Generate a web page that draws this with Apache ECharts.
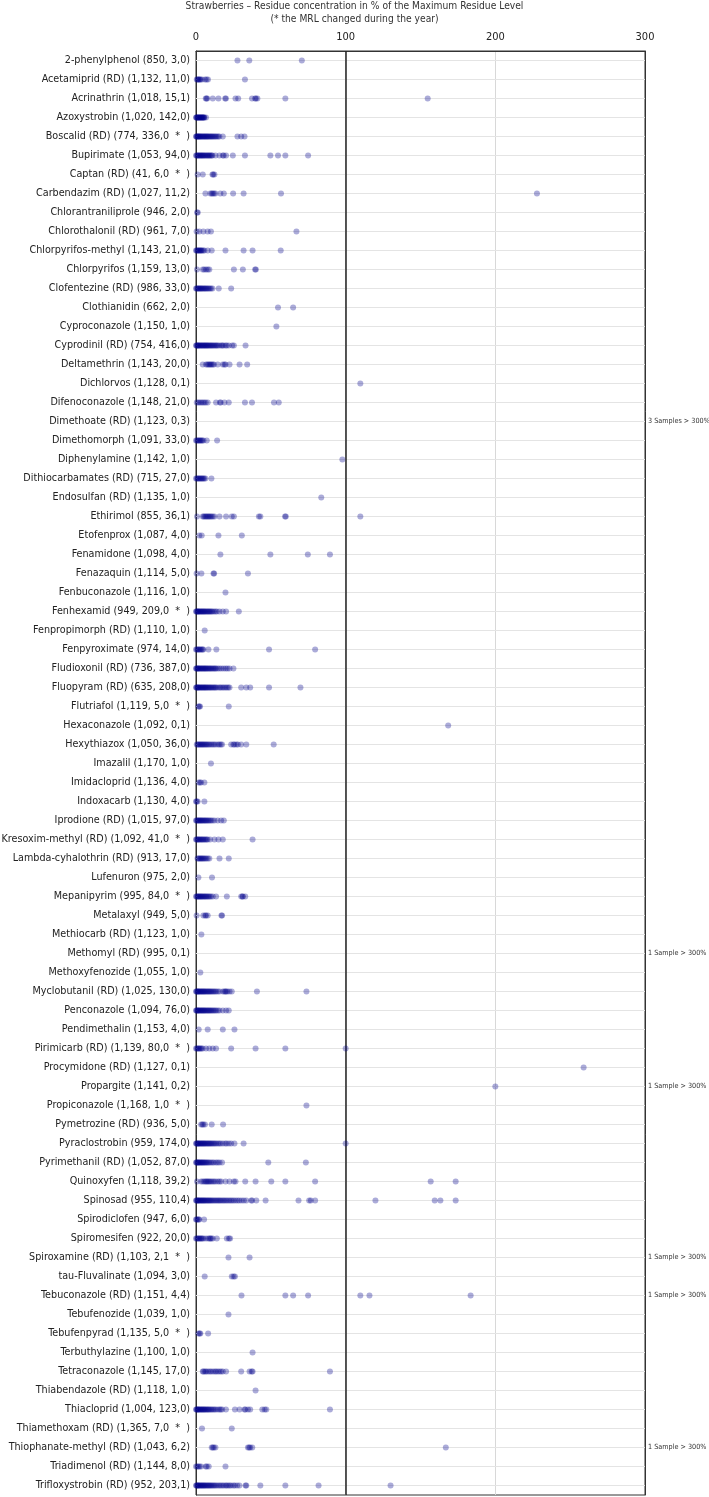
<!DOCTYPE html>
<html>
<head>
<meta charset="utf-8">
<script src="https://cdn.jsdelivr.net/npm/echarts@6/dist/echarts.min.js"></script>
<style>
html,body{margin:0;padding:0;background:#fff;}
#chart{width:709px;height:1497px;}
</style>
</head>
<body>
<div id="chart"></div>
<script>
var titleLine1 = 'Strawberries \u2013 Residue concentration in % of the Maximum Residue Level';
var titleLine2 = '(* the MRL changed during the year)';
var xTicks = [0, 100, 200, 300];
var mrlLine = 100;

var categories = [
'2-phenylphenol (850, 3,0)',
'Acetamiprid (RD) (1,132, 11,0)',
'Acrinathrin (1,018, 15,1)',
'Azoxystrobin (1,020, 142,0)',
'Boscalid (RD) (774, 336,0  *  )',
'Bupirimate (1,053, 94,0)',
'Captan (RD) (41, 6,0  *  )',
'Carbendazim (RD) (1,027, 11,2)',
'Chlorantraniliprole (946, 2,0)',
'Chlorothalonil (RD) (961, 7,0)',
'Chlorpyrifos-methyl (1,143, 21,0)',
'Chlorpyrifos (1,159, 13,0)',
'Clofentezine (RD) (986, 33,0)',
'Clothianidin (662, 2,0)',
'Cyproconazole (1,150, 1,0)',
'Cyprodinil (RD) (754, 416,0)',
'Deltamethrin (1,143, 20,0)',
'Dichlorvos (1,128, 0,1)',
'Difenoconazole (1,148, 21,0)',
'Dimethoate (RD) (1,123, 0,3)',
'Dimethomorph (1,091, 33,0)',
'Diphenylamine (1,142, 1,0)',
'Dithiocarbamates (RD) (715, 27,0)',
'Endosulfan (RD) (1,135, 1,0)',
'Ethirimol (855, 36,1)',
'Etofenprox (1,087, 4,0)',
'Fenamidone (1,098, 4,0)',
'Fenazaquin (1,114, 5,0)',
'Fenbuconazole (1,116, 1,0)',
'Fenhexamid (949, 209,0  *  )',
'Fenpropimorph (RD) (1,110, 1,0)',
'Fenpyroximate (974, 14,0)',
'Fludioxonil (RD) (736, 387,0)',
'Fluopyram (RD) (635, 208,0)',
'Flutriafol (1,119, 5,0  *  )',
'Hexaconazole (1,092, 0,1)',
'Hexythiazox (1,050, 36,0)',
'Imazalil (1,170, 1,0)',
'Imidacloprid (1,136, 4,0)',
'Indoxacarb (1,130, 4,0)',
'Iprodione (RD) (1,015, 97,0)',
'Kresoxim-methyl (RD) (1,092, 41,0  *  )',
'Lambda-cyhalothrin (RD) (913, 17,0)',
'Lufenuron (975, 2,0)',
'Mepanipyrim (995, 84,0  *  )',
'Metalaxyl (949, 5,0)',
'Methiocarb (RD) (1,123, 1,0)',
'Methomyl (RD) (995, 0,1)',
'Methoxyfenozide (1,055, 1,0)',
'Myclobutanil (RD) (1,025, 130,0)',
'Penconazole (1,094, 76,0)',
'Pendimethalin (1,153, 4,0)',
'Pirimicarb (RD) (1,139, 80,0  *  )',
'Procymidone (RD) (1,127, 0,1)',
'Propargite (1,141, 0,2)',
'Propiconazole (1,168, 1,0  *  )',
'Pymetrozine (RD) (936, 5,0)',
'Pyraclostrobin (959, 174,0)',
'Pyrimethanil (RD) (1,052, 87,0)',
'Quinoxyfen (1,118, 39,2)',
'Spinosad (955, 110,4)',
'Spirodiclofen (947, 6,0)',
'Spiromesifen (922, 20,0)',
'Spiroxamine (RD) (1,103, 2,1  *  )',
'tau-Fluvalinate (1,094, 3,0)',
'Tebuconazole (RD) (1,151, 4,4)',
'Tebufenozide (1,039, 1,0)',
'Tebufenpyrad (1,135, 5,0  *  )',
'Terbuthylazine (1,100, 1,0)',
'Tetraconazole (1,145, 17,0)',
'Thiabendazole (RD) (1,118, 1,0)',
'Thiacloprid (1,004, 123,0)',
'Thiamethoxam (RD) (1,365, 7,0  *  )',
'Thiophanate-methyl (RD) (1,043, 6,2)',
'Triadimenol (RD) (1,144, 8,0)',
'Trifloxystrobin (RD) (952, 203,1)'
];

var residues = [
[27.7, 35.6, 70.7],
[0.5,1,1.5,2,2.5,3,4,6,7,8,32.7],
[6.5,7,7.5,11.2,15,19.5,20,26.4,28.2,37.4,39.5,40,41,59.7,154.8],
[0,0.3,0.6,1,1.3,1.6,2,2.3,2.6,3,3.3,3.6,4,4.3,4.6,5,5.3,5.6,6.7],
[0,0.3,0.7,1,1.4,1.8,2.2,2.6,3,3.5,4,4.5,5,5.5,6,6.5,7,7.5,8,8.6,9.2,9.8,10.4,11,11.7,12.4,13.1,13.9,14.8,15.6,17.9,27.7,30.2,32.4],
[0,0.5,1,1.5,2,2.5,3,3.5,4,4.5,5,5.6,6.2,6.8,7.4,8,8.6,9.2,9.8,10.5,11,13,15.7,17.9,18.5,20.1,24.6,32.7,49.7,54.8,59.7,74.9],
[1.1,4.5,11,11.5,12.3],
[6.3,9.6,10.5,11.2,12,13,16.3,18.6,24.8,31.8,56.8,227.8],
[0.7,1.2],
[0.4,2.2,4.9,7.8,10,67.1],
[0,0.5,1,1.5,2,2.5,3,3.5,4,4.8,5.6,7.8,10.5,19.7,31.8,37.8,56.6],
[0.7,4.5,5.5,6.7,7.8,8.9,25.3,31.3,39.5,40],
[0,0.5,1,1.5,2,2.5,3,3.5,4,4.6,5.2,5.8,6.4,7,7.7,8.4,9.2,10,11,15.2,23.5],
[54.8,64.9],
[53.7],
[0,0.4,0.8,1.2,1.6,2,2.5,3,3.5,4,4.5,5,5.5,6,6.5,7,7.5,8,8.6,9.2,9.8,10.4,11,11.7,12.4,13.1,13.8,14.5,15.5,16.8,17.5,18.3,19.7,20.5,21.9,24.2,25.3,33.1],
[4.5,6.7,7.5,8.3,9,9.7,10.4,11.2,12,14.5,17.9,19,19.7,22.4,29.1,34.2],
[109.8],
[0.5,1.5,2.5,3.5,4.5,5.5,6.5,7.8,13.4,16,16.5,19,21.9,32.7,37.4,52.1,55.3],
[],
[0,0.6,1.2,1.8,2.4,3,3.6,4.2,5,7.2,14.1],
[97.8],
[0,0.6,1.2,1.8,2.4,3,3.6,4.2,4.8,5.5,6.3,10.3],
[83.7],
[0.7,4.5,5.2,6,6.7,7.4,8.1,8.8,9.5,10.3,11.2,12.3,15.7,20.1,23.9,25.3,42,43,59.5,60,109.8],
[2.2,3.8,15,30.6],
[16.3,49.7,74.7,89.5],
[0.4,3.6,11.7,12.1,34.7],
[19.7],
[0,0.4,0.8,1.2,1.6,2,2.5,3,3.5,4,4.5,5,5.5,6,6.6,7.2,7.8,8.4,9,9.6,10.3,11,12,13,14,15.7,17.9,20.1,28.6],
[5.8],
[0,0.6,1.2,1.8,2.4,3,3.7,4.4,4.9,8.3,13.6,48.8,79.6],
[0,0.4,0.8,1.2,1.6,2,2.5,3,3.5,4,4.5,5,5.5,6,6.5,7,7.6,8.2,8.8,9.4,10,10.7,11.4,12.1,12.8,13.4,14.5,15.7,17,18.4,19.8,21,22.4,25],
[0,0.4,0.8,1.2,1.6,2,2.5,3,3.5,4,4.5,5,5.5,6,6.5,7,7.6,8.2,8.8,9.4,10,10.7,11.4,12.1,12.8,13.4,14.5,15.7,16.5,17.5,18.5,19.5,20.5,21.5,22.4,30.2,33.6,36.2,48.8,69.8],
[1.6,2.2,2.7,21.9],
[168.5],
[0.5,1.1,1.7,2.3,2.9,3.5,4.1,4.7,5.3,6,6.7,7.4,8.2,9,10,11,12,13,14.5,15.5,16.5,17.4,23.5,25,25.7,27,28,30.2,33.6,51.9],
[10],
[1.8,2.6,3.4,5.6],
[0,0.5,1.1,5.6],
[0,0.5,1,1.5,2,2.5,3,3.5,4,4.6,5.2,5.8,6.4,7,7.7,8.4,9.2,10,11,12.3,14.5,16.8,18.6],
[0,0.5,1,1.5,2,2.6,3.2,3.8,4.4,5,5.7,6.4,7.1,7.8,9.4,12.3,15,17.9,37.8],
[1,1.6,2.2,2.8,3.4,4,4.6,5.3,6,6.8,7.8,8.9,15.7,21.9],
[1.6,10.7],
[0,0.5,1,1.5,2,2.5,3,3.5,4,4.6,5.2,5.8,6.4,7,7.7,8.4,9.2,10,11.2,13.4,20.6,30.2,31,31.3,32.9],
[0.4,4.9,6.2,6.7,7.8,17,17.4],
[3.6],
[],
[2.9],
[0,0.4,0.8,1.2,1.6,2,2.5,3,3.5,4,4.5,5,5.5,6,6.6,7.2,7.8,8.4,9,9.6,10.3,11,11.8,12.6,13.4,14.5,15.7,17.9,19,19.6,20.2,21,22.4,23.9,40.7,73.8],
[0,0.4,0.8,1.2,1.6,2,2.5,3,3.5,4,4.5,5,5.5,6,6.6,7.2,7.8,8.4,9,9.6,10.3,11,11.8,12.6,13.4,14.5,15.7,17.9,20.1,21.9],
[1.8,7.8,17.9,25.7],
[0,0.6,1.2,1.8,2.4,3,3.7,4.5,6.7,8.9,11.2,13.4,23.5,39.8,59.7,100],
[259],
[200],
[73.8],
[3.4,4.2,4.9,6,10.5,18.1],
[0,0.4,0.8,1.2,1.6,2,2.5,3,3.5,4,4.5,5,5.5,6,6.6,7.2,7.8,8.4,9,9.6,10.3,11,11.8,12.6,13.4,14.5,15.5,16.5,17.9,19.5,20.5,22,23.5,25.7,31.8,100],
[0,0.4,0.8,1.2,1.6,2,2.5,3,3.5,4,4.5,5,5.6,6.2,6.8,7.5,8.2,9,10,11,12,13.4,14.5,15.7,17.4,48.3,73.4],
[0.7,3.4,4.5,5.5,6.3,7,7.7,8.4,9.2,10,11,12,13,14.5,15.7,16.8,19.7,22.4,25.3,26.4,32.9,39.8,50.3,59.7,79.6,156.8,173.5],
[0,0.4,0.8,1.2,1.6,2,2.5,3,3.5,4,4.5,5,5.5,6,6.6,7.2,7.8,8.4,9,9.6,10.3,11,11.8,12.6,13.4,14.2,15,15.8,16.6,17.5,18.4,19.3,20.2,21.2,22.2,23.2,24.2,25.3,26.5,27.8,29,30.5,32,33.6,36.9,37.5,40.3,46.5,68.5,75.6,76.7,79.6,119.9,159.5,163.3,173.5],
[0,0.5,1.1,1.7,2.2,5.4],
[0,0.6,1.2,1.8,2.4,3,3.6,4.2,5,6.5,8,9,9.6,10.2,11.2,13.9,20.6,22,22.8],
[21.7,35.8],
[5.8,23.9,25.1,26],
[30.4,59.7,64.9,74.9,109.8,115.9,183.5],
[21.7],
[1.6,2.4,2.9,8.1],
[37.8],
[4.5,5,6,6.7,7.8,9,10,11.2,12.5,13.4,14.5,15.7,16.8,17.9,20.1,30.2,35.8,37.2,37.8,89.5],
[39.8],
[0,0.4,0.8,1.2,1.6,2,2.5,3,3.5,4,4.5,5,5.5,6,6.6,7.2,7.8,8.4,9,9.8,10.6,11.4,12.3,13.2,14.5,15.7,16.5,17.5,20,26,29.1,32.4,33,34.7,36.2,44.3,45.9,47,89.5],
[4,23.9],
[10.5,11.2,11.9,13,34.7,35.5,36.2,37.6,166.9],
[0,0.8,1.6,2.4,3.4,6.5,7.2,8.5,19.7],
[0,0.4,0.8,1.2,1.6,2,2.5,3,3.5,4,4.5,5,5.5,6,6.6,7.2,7.8,8.4,9,9.6,10.3,11,11.8,12.6,13.4,14.5,15.5,16.5,17.5,18.5,19.7,20.5,21.5,22.5,23.5,25,26,27.5,29,33.1,33.6,43,59.7,81.9,130]
];

var overLimitNotes = {
  'Dimethoate (RD) (1,123, 0,3)': '3 Samples > 300%',
  'Methomyl (RD) (995, 0,1)': '1 Sample > 300%',
  'Propargite (1,141, 0,2)': '1 Sample > 300%',
  'Spiroxamine (RD) (1,103, 2,1  *  )': '1 Sample > 300%',
  'Tebuconazole (RD) (1,151, 4,4)': '1 Sample > 300%',
  'Thiophanate-methyl (RD) (1,043, 6,2)': '1 Sample > 300%'
};

var points = [];
residues.forEach(function (arr, i) {
  arr.forEach(function (v) { points.push([v, i]); });
});

var rowLines = categories.map(function (c, i) { return { yAxis: i }; });

var fontFam = 'Tahoma, "DejaVu Sans Condensed", "Liberation Sans", sans-serif';
var titleStyle = { fontSize: 10.2, fontWeight: 'normal', color: '#333', fontFamily: fontFam };

var chart = echarts.init(document.getElementById('chart'), null, { renderer: 'canvas' });
chart.setOption({
  animation: false,
  backgroundColor: '#ffffff',
  title: [
    { text: titleLine1, left: 'center', top: 1, padding: 0, textStyle: titleStyle },
    { text: titleLine2, left: 'center', top: 14, padding: 0, textStyle: titleStyle }
  ],
  grid: {
    left: 196, right: 64, top: 51, bottom: 2,
    outerBoundsMode: 'none',
    containLabel: false,
    show: true, borderColor: '#333', borderWidth: 1, backgroundColor: 'transparent'
  },
  xAxis: {
    type: 'value',
    position: 'top',
    min: xTicks[0],
    max: xTicks[xTicks.length - 1],
    interval: 100,
    axisLine: { show: true, lineStyle: { color: '#333' } },
    axisTick: { show: false },
    axisLabel: { fontSize: 11, color: '#222', margin: 8, fontFamily: fontFam },
    splitLine: { show: true, lineStyle: { color: '#d8d8d8', width: 1 } }
  },
  yAxis: [{
    type: 'category',
    data: categories,
    inverse: true,
    axisLine: { show: true, lineStyle: { color: '#333' } },
    axisTick: { show: false },
    axisLabel: { fontSize: 10.7, color: '#222', margin: 6, fontFamily: fontFam, interval: 0 },
    splitLine: { show: false }
  }, {
    type: 'category',
    data: categories,
    inverse: true,
    position: 'right',
    axisLine: { show: true, lineStyle: { color: '#333' } },
    axisTick: { show: false },
    axisLabel: {
      fontSize: 7.2, color: '#333', margin: 3, fontFamily: fontFam, interval: 0,
      formatter: function (v) { return overLimitNotes[v] || ''; }
    },
    splitLine: { show: false }
  }],
  series: [{
    type: 'scatter',
    data: [],
    z: 1,
    silent: true,
    markLine: {
      silent: true,
      symbol: ['none', 'none'],
      label: { show: false },
      lineStyle: { color: '#e4e4e4', width: 1, type: 'solid' },
      data: rowLines
    }
  }, {
    type: 'scatter',
    data: [],
    z: 2,
    silent: true,
    markLine: {
      silent: true,
      symbol: ['none', 'none'],
      label: { show: false },
      lineStyle: { color: '#222', width: 1.5, type: 'solid' },
      data: [{ xAxis: mrlLine }]
    }
  }, {
    type: 'scatter',
    z: 5,
    data: points,
    symbol: 'circle',
    symbolSize: 6,
    itemStyle: { color: '#00008b', opacity: 0.33 }
  }]
});
</script>
</body>
</html>
